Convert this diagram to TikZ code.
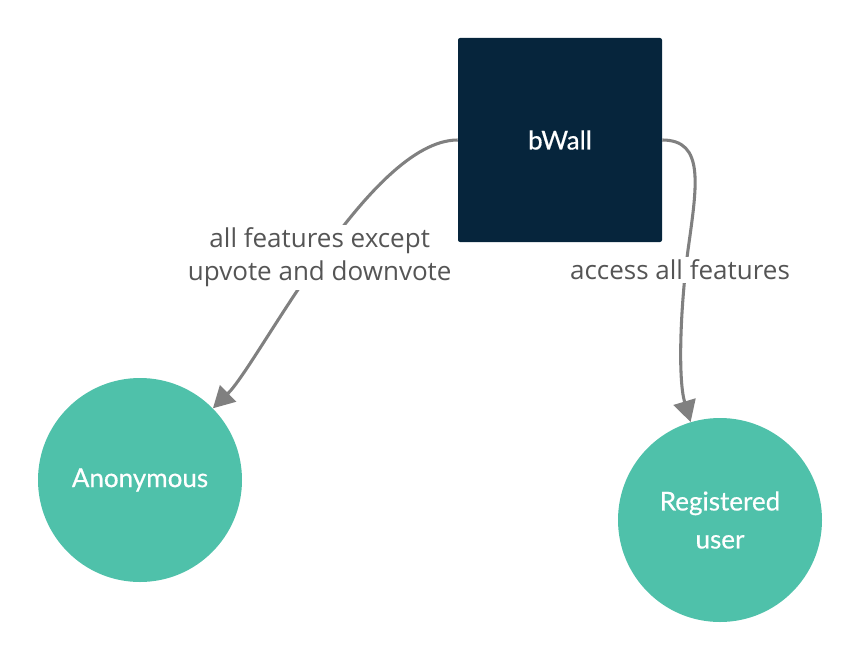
\documentclass[tikz,border=0pt]{standalone}
\usepackage{fontspec}
\setmainfont{Lato}
\newfontfamily\nodefont{Lato}[FakeBold=0.5]
\newfontfamily\labelfont{Open Sans}
\usetikzlibrary{arrows.meta}
\definecolor{wallblue}{HTML}{06253C}
\definecolor{usergreen}{HTML}{4FC1AA}
\definecolor{edgegray}{HTML}{808080}
\definecolor{textgray}{HTML}{555555}
\begin{document}
\begin{tikzpicture}[x=0.75pt,y=-0.75pt,
    wallbox/.style={fill=wallblue,rounded corners=1.5pt,minimum size=153pt,
      inner sep=0pt,text=white,font=\nodefont\fontsize{19.5}{24}\selectfont},
    userdot/.style={circle,fill=usergreen,minimum size=153pt,inner sep=0pt,
      text=white,align=center,font=\nodefont\fontsize{19.5}{28.5}\selectfont},
    flow/.style={draw=edgegray,line width=2.3pt,
      -{Triangle[length=16pt,width=17pt]}},
    flowlabel/.style={fill=white,text=textgray,align=center,inner sep=2pt,
      font=\labelfont\fontsize{19.5}{25}\selectfont}]
  \useasboundingbox (0,0) rectangle (860,660);
  \draw
    (560,140) node[wallbox] (bwall){bWall}
    (140,480) node[userdot] (anon){Anonymous}
    (720,520) node[userdot] (reg){Registered\\user};
  \begin{scope}
    \draw[flow] (bwall.west) .. controls (370,140) and (259,363) .. (anon)
      node[flowlabel,pos=0.5] (anonlabel){all features except\\upvote and downvote};
    \draw[flow] (bwall.east) .. controls (705,140) and (697,185) .. (688,250)
      .. controls (680,310) and (678,380) .. (reg);
    \node[flowlabel] (reglabel) at (680,270){access all features};
  \end{scope}
\end{tikzpicture}
\end{document}
